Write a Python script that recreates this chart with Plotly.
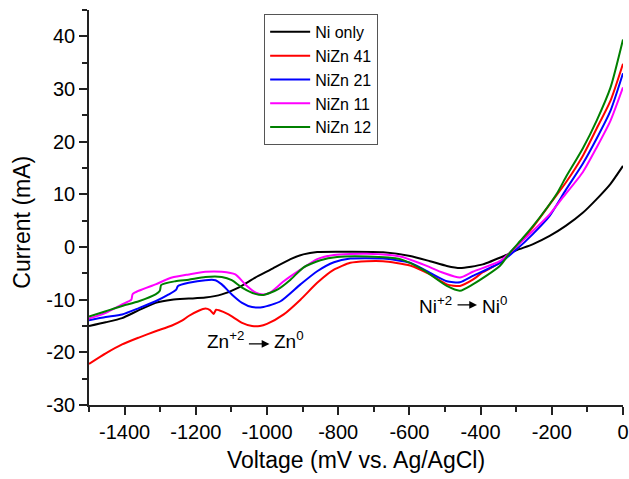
import plotly.graph_objects as go

# ---------------- data ----------------
ni_only_x = [-1500, -1453, -1407, -1360, -1313, -1267, -1220, -1173, -1127, -1080, -1033, -990, -934, -898,
             -859, -766, -674, -598, -542, -495, -458, -394, -327, -298, -254, -206, -161, -113, -74, -35, 0]
ni_only_y = [-15.0, -14.3, -13.5, -12.0, -10.6, -10.0, -9.8, -9.6, -9.0, -7.7, -5.8, -4.3, -2.3, -1.4,
             -0.95, -0.9, -1.0, -1.7, -2.7, -3.6, -4.0, -3.3, -1.5, -0.6, 0.5, 2.1, 4.0, 6.5, 9.1, 12.0, 15.4]

nizn41_x = [-1500, -1453, -1407, -1360, -1313, -1267, -1239, -1220, -1192, -1173, -1160, -1150, -1143, -1135,
            -1108, -1070, -1042, -1020, -1000, -953, -906, -859, -812, -766, -720, -674, -598, -542, -495,
            -458, -422, -394, -346, -298, -254, -209, -161, -113, -74, -35, 0]
nizn41_y = [-22.2, -20.2, -18.5, -17.2, -16.0, -14.9, -14.0, -13.1, -12.1, -11.7, -12.0, -12.7, -11.9, -12.0,
            -12.8, -14.4, -15.0, -15.0, -14.6, -12.8, -10.0, -6.8, -4.3, -3.0, -2.7, -2.7, -3.5, -5.2, -7.1,
            -7.4, -6.2, -4.8, -3.0, 0.2, 3.7, 7.8, 12.2, 17.3, 22.5, 27.8, 34.8]

nizn21_x = [-1500, -1453, -1407, -1360, -1313, -1276, -1255, -1250, -1220, -1173, -1145, -1127, -1099, -1070,
            -1042, -1010, -962, -906, -859, -812, -766, -674, -598, -542, -495, -458, -422, -346, -298, -254,
            -206, -161, -113, -74, -35, 0]
nizn21_y = [-13.9, -13.3, -12.8, -11.6, -10.3, -9.0, -8.1, -7.4, -6.8, -6.3, -6.3, -7.1, -9.0, -10.6,
            -11.4, -11.4, -10.3, -7.1, -4.6, -2.9, -2.2, -2.2, -3.0, -4.9, -6.5, -6.7, -5.5, -3.0, -0.4, 2.4,
            5.9, 10.8, 15.8, 20.6, 25.9, 33.0]

nizn11_x = [-1500, -1453, -1407, -1381, -1377, -1313, -1267, -1220, -1173, -1127, -1089, -1061, -1033, -1010,
            -990, -953, -906, -859, -812, -719, -626, -562, -505, -458, -422, -346, -298, -254, -206, -169,
            -113, -74, -35, 0]
nizn11_y = [-13.6, -12.5, -10.9, -10.0, -8.9, -7.1, -5.8, -5.2, -4.7, -4.7, -5.2, -7.1, -8.6, -9.0,
            -8.6, -6.5, -4.3, -2.3, -1.5, -1.3, -1.8, -3.3, -4.9, -5.8, -4.7, -2.7, 0.2, 3.0, 6.2, 9.4,
            14.2, 18.9, 24.0, 30.3]

nizn12_x = [-1500, -1453, -1407, -1360, -1313, -1301, -1297, -1257, -1220, -1173, -1127, -1099, -1070, -1033,
            -1010, -971, -934, -898, -850, -803, -719, -626, -562, -495, -458, -422, -346, -318, -280, -234,
            -187, -161, -113, -74, -35, 0]
nizn12_y = [-13.2, -12.2, -11.2, -10.3, -9.0, -8.3, -7.2, -6.5, -6.2, -5.7, -5.7, -6.3, -7.7, -8.9,
            -9.1, -8.1, -6.2, -3.9, -2.5, -1.9, -1.8, -2.3, -4.3, -7.4, -8.3, -7.1, -3.6, -1.1, 1.8, 5.6,
            10.0, 13.2, 18.7, 24.0, 30.3, 39.4]

series_names = ["Ni only", "NiZn 41", "NiZn 21", "NiZn 11", "NiZn 12"]
series_colors = ["#000000", "#ff0000", "#0000ff", "#ff00ff", "#008000"]
series_x = [ni_only_x, nizn41_x, nizn21_x, nizn11_x, nizn12_x]
series_y = [ni_only_y, nizn41_y, nizn21_y, nizn11_y, nizn12_y]

x_tick_vals = [-1400, -1200, -1000, -800, -600, -400, -200, 0]
x_tick_text = ["-1400", "-1200", "-1000", "-800", "-600", "-400", "-200", "0"]
y_tick_vals = [-30, -20, -10, 0, 10, 20, 30, 40]
y_tick_text = ["-30", "-20", "-10", "0", "10", "20", "30", "40"]

FONT = "Liberation Sans, Arial, sans-serif"

fig = go.Figure()
for name, color, xs, ys in zip(series_names, series_colors, series_x, series_y):
    fig.add_trace(go.Scatter(x=xs, y=ys, mode="lines", name=name,
                             line=dict(color=color, width=2, shape="spline", smoothing=0.6)))

# reaction annotations
txt_font = dict(family=FONT, size=19, color="#000000")
fig.add_annotation(x=-1060, y=-17.6, xref="x", yref="y", text="Zn<sup>+2</sup>", showarrow=False,
                   xanchor="right", yanchor="middle", font=txt_font)
fig.add_annotation(x=-993, y=-18.4, ax=-1055, ay=-18.4, xref="x", yref="y", axref="x", ayref="y",
                   text="", showarrow=True, arrowhead=2, arrowsize=1.2, arrowwidth=1.3, arrowcolor="#000000")
fig.add_annotation(x=-987, y=-17.6, xref="x", yref="y", text="Zn<sup>0</sup>", showarrow=False,
                   xanchor="left", yanchor="middle", font=txt_font)

fig.add_annotation(x=-475, y=-11.1, xref="x", yref="y", text="Ni<sup>+2</sup>", showarrow=False,
                   xanchor="right", yanchor="middle", font=txt_font)
fig.add_annotation(x=-410, y=-11.0, ax=-469, ay=-11.0, xref="x", yref="y", axref="x", ayref="y",
                   text="", showarrow=True, arrowhead=2, arrowsize=1.2, arrowwidth=1.3, arrowcolor="#000000")
fig.add_annotation(x=-401, y=-11.1, xref="x", yref="y", text="Ni<sup>0</sup>", showarrow=False,
                   xanchor="left", yanchor="middle", font=txt_font)

# y-axis title placed as a rotated annotation so it sits where the reference has it
fig.add_annotation(x=-0.1255, y=0.464, xref="paper", yref="paper", text="Current (mA)", showarrow=False,
                   textangle=-90, xanchor="center", yanchor="middle",
                   font=dict(family=FONT, size=23, color="#000000"))

axis_common = dict(showline=True, linecolor="#222222", linewidth=1.6, ticks="outside", ticklen=8,
                   tickwidth=1.6, tickcolor="#222222", showgrid=False, zeroline=False, mirror=False,
                   automargin=False,
                   tickfont=dict(family=FONT, size=20, color="#000000"))

fig.update_xaxes(range=[-1500, 0], tickmode="array", tickvals=x_tick_vals, ticktext=x_tick_text,
                 minor=dict(dtick=100, tick0=0, ticks="outside", ticklen=5, tickwidth=1.6, tickcolor="#222222"),
                 title=dict(text="Voltage (mV vs. Ag/AgCl)", font=dict(family=FONT, size=23, color="#000000"),
                            standoff=10),
                 **axis_common)
fig.update_yaxes(range=[-30, 45], tickmode="array", tickvals=y_tick_vals, ticktext=y_tick_text,
                 minor=dict(dtick=5, tick0=0, ticks="outside", ticklen=5, tickwidth=1.6, tickcolor="#222222"),
                 **axis_common)

fig.update_layout(
    width=629, height=479,
    margin=dict(l=89, r=6, t=10, b=74, autoexpand=False),
    paper_bgcolor="white", plot_bgcolor="white",
    font=dict(family=FONT, color="#000000"),
    legend=dict(x=0.328, y=0.99, xanchor="left", yanchor="top",
                bgcolor="rgba(255,255,255,1)", bordercolor="#555555", borderwidth=1,
                font=dict(family=FONT, size=16, color="#000000"),
                tracegroupgap=0, itemwidth=40),
    showlegend=True,
)

fig.write_html("out.html")
